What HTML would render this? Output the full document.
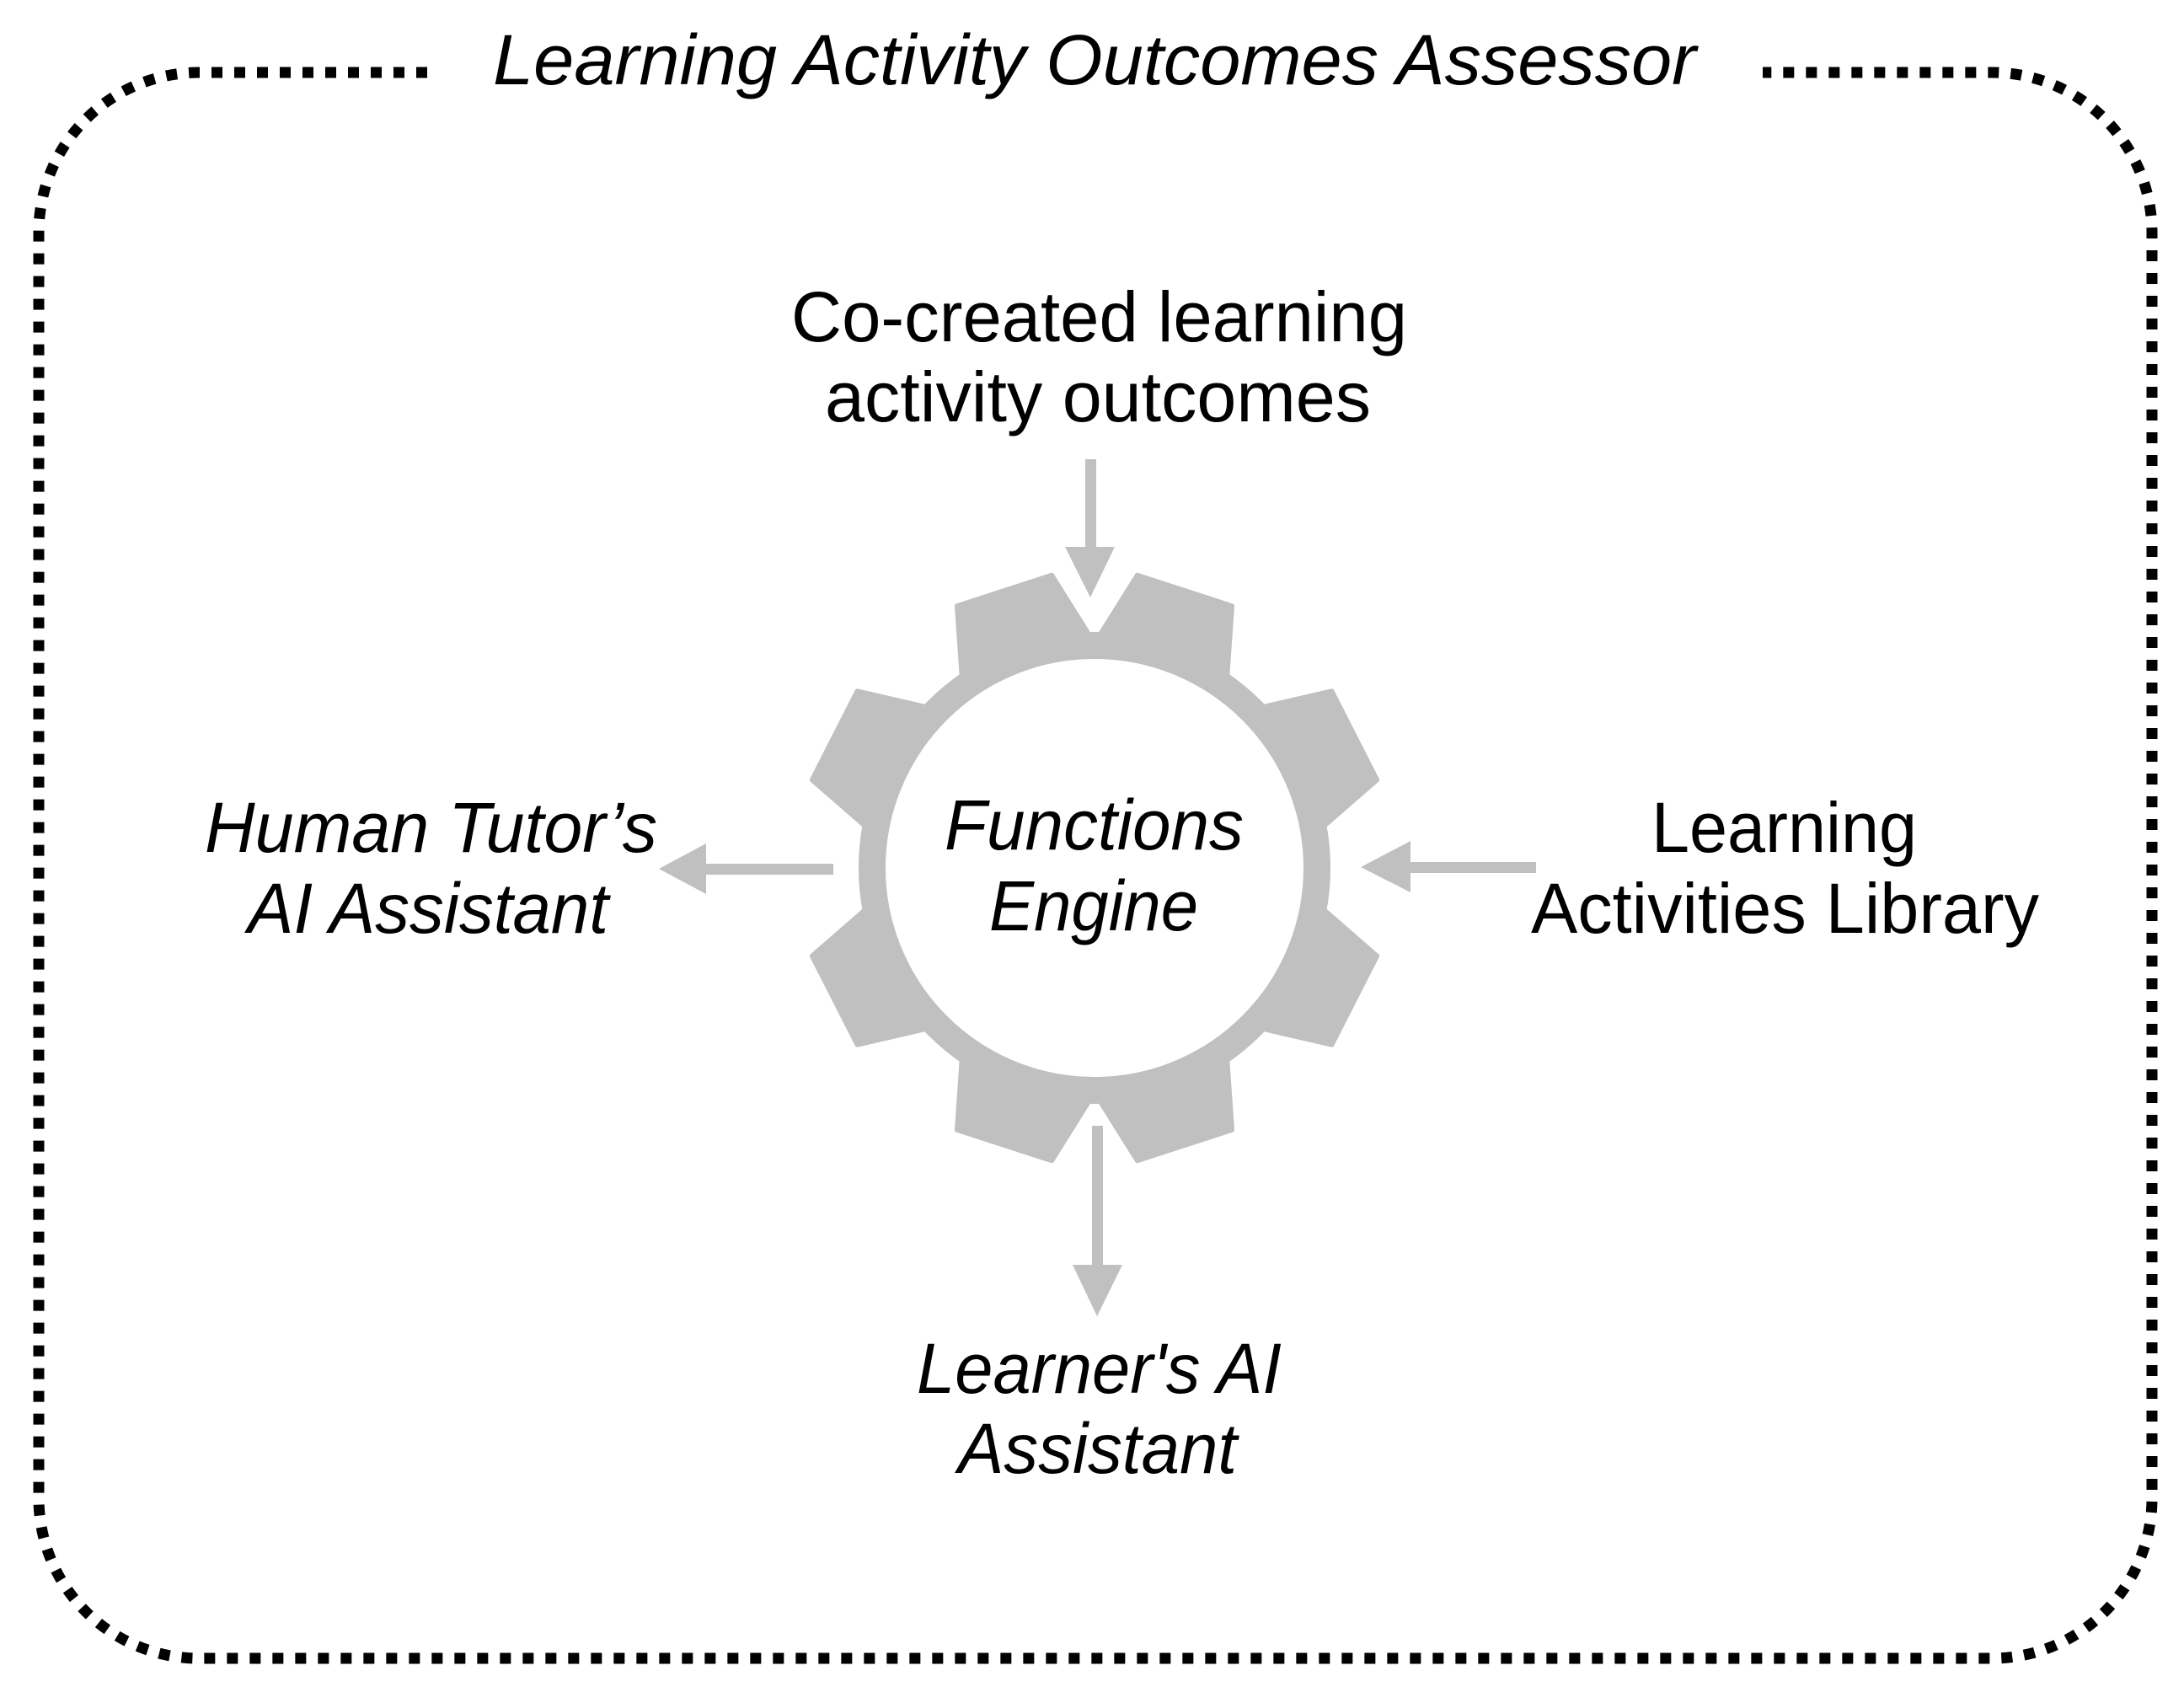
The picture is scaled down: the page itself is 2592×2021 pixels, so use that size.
<!DOCTYPE html>
<html><head><meta charset="utf-8"><style>html,body{margin:0;padding:0;background:#fff}svg{display:block}</style></head>
<body>
<svg width="2592" height="2021" viewBox="0 0 2592 2021" xmlns="http://www.w3.org/2000/svg">
<rect width="2592" height="2021" fill="#fff"/>
<!-- dotted border -->
<path d="M507,86 L236,86 A190,190 0 0 0 46,276 L46,1778 A190,190 0 0 0 236,1968 L2364,1968 A190,190 0 0 0 2554,1778 L2554,276 A190,190 0 0 0 2364,86 L2092,86" fill="none" stroke="#000" stroke-width="13" stroke-dasharray="13 14"/>
<g font-family="Liberation Sans, sans-serif" fill="#000" text-anchor="start">
<text x="585" y="100" font-size="84" font-style="italic" textLength="1428" lengthAdjust="spacingAndGlyphs">Learning Activity Outcomes Assessor</text>
<text x="939" y="405" font-size="84" textLength="731" lengthAdjust="spacingAndGlyphs">Co-created learning</text>
<text x="979" y="500" font-size="84" textLength="648" lengthAdjust="spacingAndGlyphs">activity outcomes</text>
<text x="1121" y="1008" font-size="84" font-style="italic" textLength="355" lengthAdjust="spacingAndGlyphs">Functions</text>
<text x="1174" y="1104" font-size="84" font-style="italic" textLength="248" lengthAdjust="spacingAndGlyphs">Engine</text>
<text x="243" y="1011" font-size="84" font-style="italic" textLength="537" lengthAdjust="spacingAndGlyphs">Human Tutor’s</text>
<text x="294" y="1107" font-size="84" font-style="italic" textLength="428" lengthAdjust="spacingAndGlyphs">AI Assistant</text>
<text x="1960" y="1011" font-size="84" textLength="315" lengthAdjust="spacingAndGlyphs">Learning</text>
<text x="1817" y="1107" font-size="84" textLength="603" lengthAdjust="spacingAndGlyphs">Activities Library</text>
<text x="1088" y="1653" font-size="84" font-style="italic" textLength="433" lengthAdjust="spacingAndGlyphs">Learner's AI</text>
<text x="1137" y="1748" font-size="84" font-style="italic" textLength="331" lengthAdjust="spacingAndGlyphs">Assistant</text>
</g>
<!-- gear -->
<g transform="translate(1299,1030)" fill="#c0c0c0">
<circle r="264" fill="none" stroke="#c0c0c0" stroke-width="32"/>
<g id="t"><polygon points="-80,-262 -59,-346 59,-346 80,-262" stroke="#c0c0c0" stroke-width="6" stroke-linejoin="round" transform="rotate(18)"/></g>
<polygon points="-80,-262 -59,-346 59,-346 80,-262" stroke="#c0c0c0" stroke-width="6" stroke-linejoin="round" transform="rotate(-18)"/>
<polygon points="-80,-262 -59,-346 59,-346 80,-262" stroke="#c0c0c0" stroke-width="6" stroke-linejoin="round" transform="rotate(63)"/>
<polygon points="-80,-262 -59,-346 59,-346 80,-262" stroke="#c0c0c0" stroke-width="6" stroke-linejoin="round" transform="rotate(117)"/>
<polygon points="-80,-262 -59,-346 59,-346 80,-262" stroke="#c0c0c0" stroke-width="6" stroke-linejoin="round" transform="rotate(162)"/>
<polygon points="-80,-262 -59,-346 59,-346 80,-262" stroke="#c0c0c0" stroke-width="6" stroke-linejoin="round" transform="rotate(198)"/>
<polygon points="-80,-262 -59,-346 59,-346 80,-262" stroke="#c0c0c0" stroke-width="6" stroke-linejoin="round" transform="rotate(-63)"/>
<polygon points="-80,-262 -59,-346 59,-346 80,-262" stroke="#c0c0c0" stroke-width="6" stroke-linejoin="round" transform="rotate(-117)"/>
</g>
<!-- arrows -->
<g fill="#c0c0c0">
<rect x="1288" y="545" width="13" height="108"/>
<polygon points="1264,649 1323,649 1294,709"/>
<rect x="1670" y="1023" width="153" height="13"/>
<polygon points="1615,1029 1674,998 1674,1059"/>
<rect x="835" y="1025" width="154" height="13"/>
<polygon points="782,1031 838,1001 838,1061"/>
<rect x="1296" y="1336" width="13" height="170"/>
<polygon points="1273,1501 1332,1501 1302,1562"/>
</g>
</svg>
</body></html>
